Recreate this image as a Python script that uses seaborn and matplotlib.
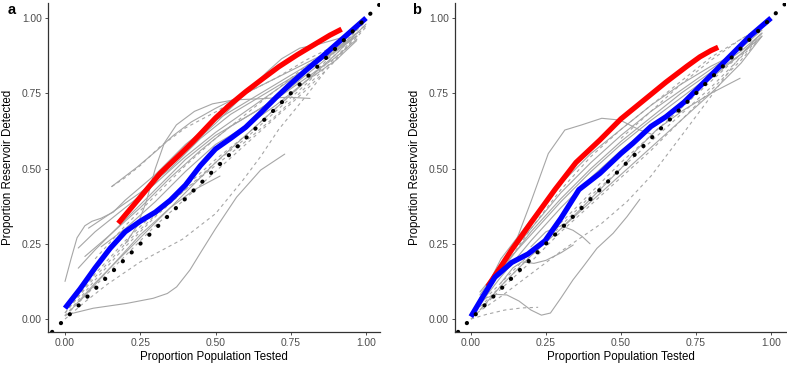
import numpy as np
import pandas as pd
import matplotlib
matplotlib.use("Agg")
import matplotlib.pyplot as plt
import seaborn as sns

# ---------------- Panel a data ----------------
A_RED_X = [0.177, 0.25, 0.316, 0.38, 0.426, 0.5, 0.548, 0.6, 0.659, 0.71, 0.77, 0.83, 0.88, 0.919]
A_RED_Y = [0.318, 0.405, 0.484, 0.545, 0.59, 0.668, 0.712, 0.755, 0.8, 0.838, 0.877, 0.913, 0.943, 0.963]
A_BLUE_X = [0.0, 0.05, 0.10, 0.15, 0.20, 0.25, 0.30, 0.35, 0.40, 0.45, 0.50, 0.55, 0.60, 0.65, 0.70, 0.75, 0.80, 0.85, 0.90, 0.95, 1.0]
A_BLUE_Y = [0.036, 0.10, 0.17, 0.235, 0.29, 0.325, 0.355, 0.395, 0.445, 0.51, 0.565, 0.6, 0.637, 0.685, 0.735, 0.782, 0.826, 0.868, 0.912, 0.956, 1.0]

A_S1_X = [0.0, 0.094, 0.205, 0.293, 0.34, 0.371, 0.415, 0.45, 0.5, 0.57, 0.65, 0.73]
A_S1_Y = [0.013, 0.036, 0.052, 0.069, 0.085, 0.107, 0.163, 0.22, 0.3, 0.405, 0.495, 0.548]
A_S2_X = [0.0, 0.02, 0.04, 0.066, 0.09, 0.12, 0.16, 0.2, 0.3, 0.4, 0.5, 0.6, 0.7, 0.8, 0.9, 0.97]
A_S2_Y = [0.125, 0.2, 0.27, 0.31, 0.325, 0.335, 0.355, 0.395, 0.48, 0.58, 0.66, 0.72, 0.78, 0.84, 0.9, 0.95]
A_S3_X = [0.155, 0.24, 0.305, 0.36, 0.42, 0.5, 0.6, 0.7, 0.8, 0.9, 0.97]
A_S3_Y = [0.44, 0.505, 0.56, 0.61, 0.655, 0.7, 0.75, 0.8, 0.85, 0.9, 0.94]
A_S4_X = [0.2, 0.24, 0.27, 0.3, 0.33, 0.37, 0.43, 0.49, 0.56, 0.65, 0.74, 0.814]
A_S4_Y = [0.25, 0.31, 0.39, 0.5, 0.585, 0.645, 0.69, 0.715, 0.728, 0.732, 0.737, 0.733]
A_S5_X = [0.3, 0.4, 0.5, 0.6, 0.67, 0.72, 0.78, 0.85, 0.92, 0.97]
A_S5_Y = [0.46, 0.56, 0.65, 0.75, 0.82, 0.865, 0.9, 0.915, 0.935, 0.96]
A_S6_X = [0.05, 0.15, 0.25, 0.35, 0.43, 0.515]
A_S6_Y = [0.06, 0.17, 0.28, 0.37, 0.43, 0.475]
A_S7_X = [0.044, 0.1, 0.2, 0.3, 0.4, 0.5, 0.6, 0.7, 0.8, 0.9, 0.97]
A_S7_Y = [0.236, 0.29, 0.37, 0.45, 0.54, 0.62, 0.69, 0.76, 0.83, 0.89, 0.94]
A_S8_X = [0.044, 0.1, 0.2, 0.3, 0.4, 0.5, 0.6, 0.7, 0.8, 0.9, 0.97]
A_S8_Y = [0.169, 0.23, 0.33, 0.43, 0.53, 0.61, 0.67, 0.73, 0.8, 0.87, 0.93]
A_S9_X = [0.078, 0.15, 0.25, 0.35, 0.45, 0.55, 0.65, 0.75, 0.85, 0.95]
A_S9_Y = [0.302, 0.35, 0.42, 0.5, 0.6, 0.68, 0.74, 0.8, 0.86, 0.93]
A_S10_X = [0.066, 0.15, 0.25, 0.35, 0.45, 0.55, 0.65, 0.75, 0.85, 0.95]
A_S10_Y = [0.208, 0.28, 0.37, 0.47, 0.56, 0.64, 0.70, 0.77, 0.85, 0.93]
A_S11_X = [0.12, 0.2, 0.3, 0.4, 0.5, 0.6, 0.7, 0.8, 0.9, 0.969]
A_S11_Y = [0.24, 0.3, 0.39, 0.49, 0.58, 0.64, 0.71, 0.79, 0.86, 0.925]
A_S12_X = [0.02, 0.1, 0.2, 0.3, 0.4, 0.5, 0.6, 0.7, 0.8, 0.9, 1.0]
A_S12_Y = [0.03, 0.12, 0.22, 0.32, 0.42, 0.52, 0.61, 0.7, 0.79, 0.88, 0.98]

A_D1_X = [0.0, 0.07, 0.14, 0.25, 0.39, 0.5, 0.59, 0.65, 0.71, 0.8, 0.87, 0.95]
A_D1_Y = [0.0, 0.06, 0.115, 0.19, 0.265, 0.35, 0.46, 0.54, 0.63, 0.74, 0.83, 0.92]
A_DB_X = [0.0, 0.1, 0.2, 0.3, 0.4, 0.5, 0.6, 0.7, 0.8, 0.9, 1.0]
A_D2_Y = [0.01, 0.13, 0.24, 0.34, 0.43, 0.52, 0.6, 0.69, 0.78, 0.88, 0.98]
A_D3_Y = [0.02, 0.15, 0.26, 0.355, 0.44, 0.53, 0.61, 0.7, 0.79, 0.89, 0.99]
A_D4_Y = [0.01, 0.11, 0.21, 0.31, 0.40, 0.49, 0.58, 0.67, 0.76, 0.86, 0.97]
A_D5_Y = [0.02, 0.14, 0.25, 0.345, 0.43, 0.51, 0.59, 0.675, 0.77, 0.87, 0.975]
A_D6_X = [0.155, 0.2, 0.25, 0.316, 0.4, 0.504, 0.6, 0.7, 0.8, 0.9, 0.97]
A_D6_Y = [0.44, 0.47, 0.51, 0.573, 0.635, 0.69, 0.75, 0.8, 0.86, 0.91, 0.95]
A_D7_X = [0.1, 0.2, 0.3, 0.4, 0.5, 0.6, 0.7, 0.8, 0.9, 0.98]
A_D7_Y = [0.2, 0.31, 0.41, 0.51, 0.6, 0.68, 0.76, 0.84, 0.91, 0.97]

# ---------------- Panel b data ----------------
B_RED_X = [0.056, 0.136, 0.2, 0.28, 0.35, 0.43, 0.5, 0.58, 0.65, 0.72, 0.763, 0.8, 0.824]
B_RED_Y = [0.108, 0.23, 0.32, 0.43, 0.52, 0.595, 0.665, 0.73, 0.787, 0.84, 0.871, 0.892, 0.903]
B_BLUE_X = [0.0, 0.04, 0.08, 0.136, 0.19, 0.247, 0.3, 0.36, 0.43, 0.5, 0.54, 0.6, 0.65, 0.71, 0.76, 0.82, 0.87, 0.93, 1.0]
B_BLUE_Y = [0.008, 0.075, 0.139, 0.188, 0.216, 0.26, 0.335, 0.43, 0.484, 0.55, 0.584, 0.64, 0.672, 0.72, 0.77, 0.83, 0.88, 0.94, 1.0]

B_S1_X = [0.03, 0.08, 0.147, 0.202, 0.258, 0.313, 0.369, 0.436, 0.497, 0.563, 0.6]
B_S1_Y = [0.09, 0.15, 0.25, 0.395, 0.55, 0.628, 0.645, 0.667, 0.661, 0.628, 0.615]
B_S2_X = [0.02, 0.05, 0.086, 0.12, 0.16, 0.2, 0.235, 0.265, 0.3, 0.34, 0.374, 0.42, 0.474, 0.52, 0.563]
B_S2_Y = [0.04, 0.07, 0.082, 0.08, 0.06, 0.03, 0.013, 0.02, 0.07, 0.13, 0.174, 0.235, 0.285, 0.34, 0.398]
B_S3_X = [0.1, 0.14, 0.17, 0.21, 0.25, 0.3, 0.341]
B_S3_Y = [0.12, 0.17, 0.19, 0.185, 0.195, 0.22, 0.246]
B_S4_X = [0.2, 0.25, 0.3, 0.34, 0.37, 0.397]
B_S4_Y = [0.24, 0.29, 0.31, 0.295, 0.275, 0.25]
B_S5_X = [0.3, 0.4, 0.5, 0.55, 0.62, 0.708, 0.8, 0.897]
B_S5_Y = [0.3, 0.4, 0.5, 0.56, 0.63, 0.694, 0.75, 0.8]
B_SB_X = [0.03, 0.1, 0.2, 0.3, 0.4, 0.5, 0.6, 0.7, 0.8, 0.9, 0.97]
B_S6_Y = [0.06, 0.16, 0.29, 0.4, 0.5, 0.59, 0.67, 0.75, 0.82, 0.89, 0.95]
B_S7_Y = [0.08, 0.18, 0.3, 0.42, 0.52, 0.61, 0.69, 0.76, 0.83, 0.9, 0.96]
B_S8_Y = [0.05, 0.14, 0.26, 0.37, 0.47, 0.56, 0.64, 0.72, 0.8, 0.88, 0.95]
B_S9_Y = [0.07, 0.17, 0.28, 0.39, 0.49, 0.58, 0.66, 0.735, 0.81, 0.88, 0.94]
B_S10_Y = [0.03, 0.11, 0.21, 0.3, 0.39, 0.48, 0.57, 0.66, 0.75, 0.85, 0.94]
B_S11_X = [0.05, 0.1, 0.2, 0.3, 0.4, 0.5, 0.6, 0.7, 0.8, 0.88]
B_S11_Y = [0.1, 0.2, 0.33, 0.45, 0.55, 0.63, 0.71, 0.78, 0.84, 0.88]

B_D1_X = [0.0, 0.05, 0.113, 0.17, 0.224]
B_D1_Y = [0.0, 0.015, 0.03, 0.037, 0.039]
B_D2_X = [0.02, 0.1, 0.2, 0.3, 0.436, 0.52, 0.6, 0.71, 0.8, 0.88, 0.95]
B_D2_Y = [0.02, 0.075, 0.15, 0.225, 0.318, 0.39, 0.475, 0.62, 0.74, 0.85, 0.93]
B_D3_X = [0.06, 0.2, 0.3, 0.4, 0.5, 0.6, 0.7, 0.8, 0.9, 0.96]
B_D3_Y = [0.1, 0.3, 0.43, 0.54, 0.63, 0.71, 0.79, 0.87, 0.93, 0.965]
B_DB_X = [0.0, 0.1, 0.2, 0.3, 0.4, 0.5, 0.6, 0.7, 0.8, 0.9, 0.97]
B_D4_Y = [0.01, 0.11, 0.21, 0.31, 0.41, 0.5, 0.59, 0.68, 0.77, 0.87, 0.94]
B_D5_Y = [0.02, 0.12, 0.22, 0.32, 0.42, 0.52, 0.61, 0.7, 0.79, 0.88, 0.95]
B_D6_Y = [0.0, 0.1, 0.19, 0.29, 0.38, 0.47, 0.56, 0.66, 0.76, 0.86, 0.94]
B_D7_X = [0.5, 0.6, 0.7, 0.8, 0.9, 0.97]
B_D7_Y = [0.6, 0.69, 0.78, 0.86, 0.93, 0.97]

TICKS = [0.0, 0.25, 0.5, 0.75, 1.0]
TICK_LABELS = ["0.00", "0.25", "0.50", "0.75", "1.00"]
XLABEL = "Proportion Population Tested"
YLABEL = "Proportion Reservoir Detected"


def gray_frame(curves):
    rows = []
    for i, (xs, ys, kind) in enumerate(curves):
        for x, y in zip(xs, ys):
            rows.append({"curve": i, "kind": kind, "x": x, "y": y})
    return pd.DataFrame(rows)


a_gray = gray_frame([
    (A_S1_X, A_S1_Y, "solid"), (A_S2_X, A_S2_Y, "solid"), (A_S3_X, A_S3_Y, "solid"),
    (A_S4_X, A_S4_Y, "solid"), (A_S5_X, A_S5_Y, "solid"), (A_S6_X, A_S6_Y, "solid"),
    (A_S7_X, A_S7_Y, "solid"), (A_S8_X, A_S8_Y, "solid"), (A_S9_X, A_S9_Y, "solid"),
    (A_S10_X, A_S10_Y, "solid"), (A_S11_X, A_S11_Y, "solid"), (A_S12_X, A_S12_Y, "solid"),
    (A_D1_X, A_D1_Y, "dashed"), (A_DB_X, A_D2_Y, "dashed"), (A_DB_X, A_D3_Y, "dashed"),
    (A_DB_X, A_D4_Y, "dashed"), (A_DB_X, A_D5_Y, "dashed"), (A_D6_X, A_D6_Y, "dashed"),
    (A_D7_X, A_D7_Y, "dashed"),
])
b_gray = gray_frame([
    (B_S1_X, B_S1_Y, "solid"), (B_S2_X, B_S2_Y, "solid"), (B_S3_X, B_S3_Y, "solid"),
    (B_S4_X, B_S4_Y, "solid"), (B_S5_X, B_S5_Y, "solid"), (B_SB_X, B_S6_Y, "solid"),
    (B_SB_X, B_S7_Y, "solid"), (B_SB_X, B_S8_Y, "solid"), (B_SB_X, B_S9_Y, "solid"),
    (B_SB_X, B_S10_Y, "solid"), (B_S11_X, B_S11_Y, "solid"),
    (B_D1_X, B_D1_Y, "dashed"), (B_D2_X, B_D2_Y, "dashed"), (B_D3_X, B_D3_Y, "dashed"),
    (B_DB_X, B_D4_Y, "dashed"), (B_DB_X, B_D5_Y, "dashed"), (B_DB_X, B_D6_Y, "dashed"),
    (B_D7_X, B_D7_Y, "dashed"),
])

sns.set_theme(style="ticks")
plt.rcParams["font.family"] = ["Liberation Sans", "DejaVu Sans"]

W, H = 787, 367
fig = plt.figure(figsize=(W / 100, H / 100), dpi=100)


def px_axes(left, right, top, bottom):
    return fig.add_axes([left / W, 1 - bottom / H, (right - left) / W, (bottom - top) / H])


ax_a = px_axes(48, 380, 3, 332)
ax_b = px_axes(455, 786, 3, 332)

GRAY = "#a6a6a6"
panels = [
    (ax_a, a_gray, A_RED_X, A_RED_Y, A_BLUE_X, A_BLUE_Y, "a", (-0.0565, 1.0465), 8),
    (ax_b, b_gray, B_RED_X, B_RED_Y, B_BLUE_X, B_BLUE_Y, "b", (-0.053, 1.05), 412),
]
for ax, gdf, rx, ry, bx, by, lab, xl, labx in panels:
    sns.lineplot(data=gdf, x="x", y="y", units="curve", estimator=None, style="kind",
                 dashes={"solid": "", "dashed": (3, 3)}, color=GRAY, linewidth=0.8,
                 sort=False, legend=False, ax=ax)
    sns.lineplot(x=rx, y=ry, color="#ff0000", linewidth=3.8, sort=False,
                 estimator=None, ax=ax, solid_capstyle="butt", solid_joinstyle="round")
    sns.lineplot(x=bx, y=by, color="#0000ff", linewidth=3.8, sort=False,
                 estimator=None, ax=ax, solid_capstyle="butt", solid_joinstyle="round")
    ax.axline((0, 0), slope=1, color="black", linewidth=3.0,
              linestyle=(0, (0.05, 2.95)), dash_capstyle="round")
    ax.set_xlim(*xl)
    ax.set_ylim(-0.043, 1.05)
    ax.set_xticks(TICKS)
    ax.set_xticklabels(TICK_LABELS)
    ax.set_yticks(TICKS)
    ax.set_yticklabels(TICK_LABELS)
    ax.tick_params(axis="both", labelsize=7.4, labelcolor="#4d4d4d", color="#333333",
                   length=2.5, width=0.6, pad=2)
    for s in ["top", "right"]:
        ax.spines[s].set_visible(False)
    for s in ["left", "bottom"]:
        ax.spines[s].set_color("#333333")
        ax.spines[s].set_linewidth(0.9)
    ax.set_xlabel(XLABEL, fontsize=8.3, color="black")
    ax.set_ylabel(YLABEL, fontsize=8.3, color="black")
    ax.xaxis.set_label_coords(0.5, -0.058)
    ax.yaxis.set_label_coords(-0.102, 0.5)
    fig.text(labx / W, 1 - 3 / H, lab, fontsize=10.5, fontweight="bold",
             ha="left", va="top", color="black")

fig.savefig("out.png", dpi=100, facecolor="white")
